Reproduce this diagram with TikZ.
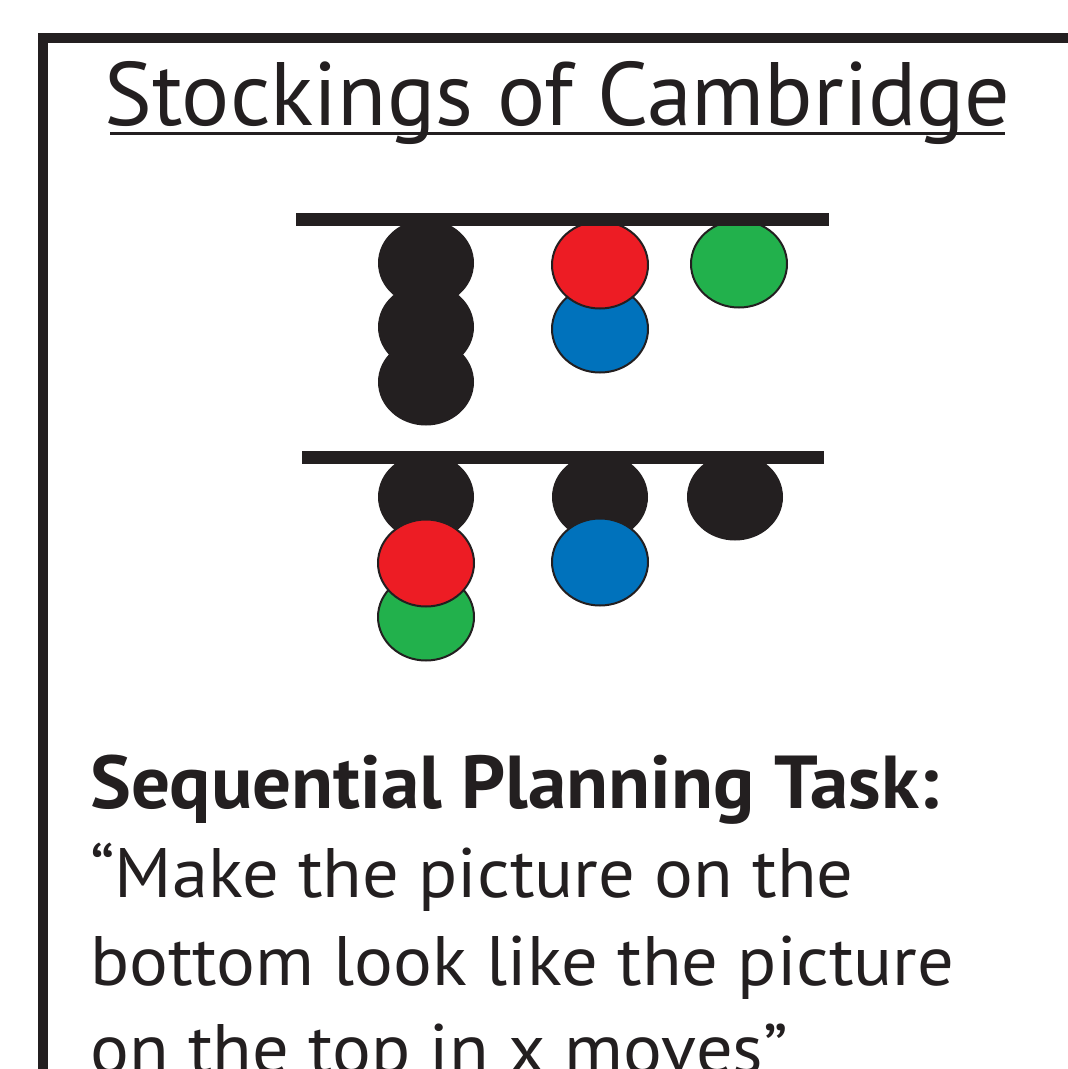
\documentclass[tikz,border=0pt]{standalone}
\usepackage{fontspec}
\setmainfont{PT Sans}
\usetikzlibrary{shapes.geometric}
\definecolor{ink}{RGB}{35,31,32}
\definecolor{bred}{RGB}{237,28,36}
\definecolor{bblue}{RGB}{0,114,188}
\definecolor{bgreen}{RGB}{34,177,76}
\tikzset{
  ball/.style={ellipse, inner sep=0pt, minimum width=96pt, minimum height=87pt},
  blackball/.style={ball, fill=ink},
  colball/.style={ball, draw=ink, line width=2pt},
  rod/.style={line width=13pt, ink},
  frame/.style={line width=10pt, ink, line join=miter},
  txt/.style={anchor=base west, inner sep=0pt, text=ink}
}
\begin{document}
\begin{tikzpicture}[x=1pt,y=-1pt]
\useasboundingbox (0,0) rectangle (1068,1069);
\clip (0,0) rectangle (1068,1069);
\fill[white] (0,0) rectangle (1068,1069);
% frame
\coordinate (fb) at (43,1080);
\coordinate (fc) at (43,38);
\coordinate (fr) at (1080,38);
\draw[frame] (fb) -- (fc) -- (fr);
% title
\node[anchor=base, inner sep=0pt, text=ink] (title) at (557.5,125) {\fontsize{90}{90}\selectfont Stockings of Cambridge};
\coordinate (ul) at (110,133.5);
\coordinate (ur) at (1005,133.5);
\draw[ink, line width=3pt] (ul) -- (ur);
% top rod
\coordinate (r1a) at (296,219);
\coordinate (r1b) at (829,219);
\node[blackball] (ta3) at (426,382) {};
\node[blackball] (ta2) at (426,327) {};
\node[blackball] (ta1) at (426,263) {};
\node[colball, fill=bblue] (tb2) at (600,329) {};
\node[colball, fill=bred] (tb1) at (600,265) {};
\node[colball, fill=bgreen] (tc1) at (739,264) {};
\draw[rod] (r1a) -- (r1b);
% bottom rod
\coordinate (r2a) at (302,457);
\coordinate (r2b) at (824,457);
\node[blackball] (ba1) at (426,497) {};
\node[blackball] (bb1) at (600,497) {};
\node[blackball] (bc1) at (735,497) {};
\draw[rod] (r2a) -- (r2b);
\node[colball, fill=bgreen] (ba3) at (426,617) {};
\node[colball, fill=bred] (ba2) at (426,563) {};
\node[colball, fill=bblue] (bb2) at (600,562) {};
% task text
\node[txt] (t1) at (90,808) {\scalebox{1.028}[1]{\fontsize{75}{75}\selectfont\bfseries Sequential Planning Task:}};
\node[txt] (t2) at (90,897) {\scalebox{1.036}[1]{\fontsize{70}{70}\selectfont “Make the picture on the}};
\node[txt] (t3) at (90,985) {\scalebox{1.036}[1]{\fontsize{70}{70}\selectfont bottom look like the picture}};
\node[txt] (t4) at (90,1073) {\scalebox{1.036}[1]{\fontsize{70}{70}\selectfont on the top in x moves”}};
\end{tikzpicture}
\end{document}
